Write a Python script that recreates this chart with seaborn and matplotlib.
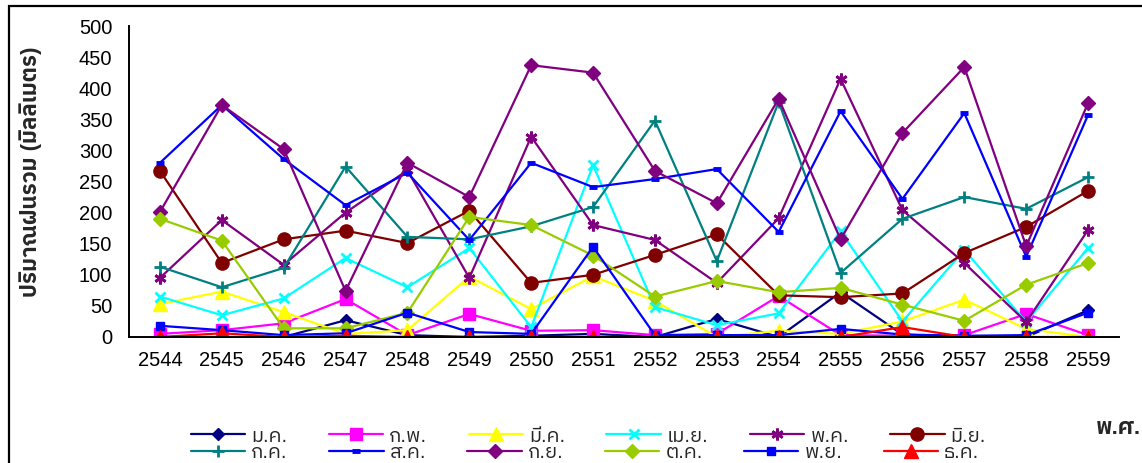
"""ปริมาณฝนรวมรายเดือน พ.ศ. 2544-2559 — เส้นกราฟ 12 เดือน"""
import numpy as np
import matplotlib
matplotlib.use("Agg")
import matplotlib.pyplot as plt
from matplotlib import font_manager as fm
from matplotlib.ft2font import FT2Font
from matplotlib.patches import Rectangle
import seaborn as sns

YEARS = ["2544", "2545", "2546", "2547", "2548", "2549", "2550", "2551",
         "2552", "2553", "2554", "2555", "2556", "2557", "2558", "2559"]
MONTHS = ["ม.ค.", "ก.พ.", "มี.ค.", "เม.ย.", "พ.ค.", "มิ.ย.",
          "ก.ค.", "ส.ค.", "ก.ย.", "ต.ค.", "พ.ย.", "ธ.ค."]

jan = [0, 0, 0, 27, 3, 0, 2, 5, 0, 29, 0, 72, 4, 0, 0, 43]
feb = [5, 11, 22, 61, 3, 37, 10, 11, 3, 5, 66, 3, 2, 3, 37, 3]
mar = [53, 73, 40, 5, 11, 97, 45, 98, 58, 0, 10, 5, 25, 60, 13, 0]
apr = [65, 35, 62, 127, 80, 143, 16, 276, 48, 19, 38, 170, 25, 140, 24, 143]
may = [95, 188, 116, 200, 268, 95, 322, 180, 156, 87, 191, 415, 204, 119, 24, 172]
jun = [267, 119, 157, 171, 151, 203, 87, 100, 132, 165, 67, 64, 70, 135, 177, 235]
jul = [113, 80, 111, 274, 161, 157, 178, 209, 348, 122, 378, 103, 190, 225, 206, 257]
aug = [280, 373, 286, 212, 264, 156, 280, 241, 254, 270, 169, 363, 222, 360, 129, 357]
sep = [201, 373, 302, 74, 280, 225, 437, 425, 267, 215, 383, 157, 328, 434, 146, 376]
oct_ = [190, 155, 14, 14, 39, 193, 180, 131, 65, 90, 72, 79, 52, 26, 84, 119]
nov = [18, 11, 3, 6, 39, 8, 5, 145, 3, 3, 3, 13, 4, 2, 3, 39]
dec = [0, 6, 0, 2, 0, 0, 0, 0, 0, 0, 0, 0, 16, 0, 0, 0]
VALUES = [jan, feb, mar, apr, may, jun, jul, aug, sep, oct_, nov, dec]

# สี/มาร์กเกอร์แบบ Excel: (สี, มาร์กเกอร์, ขนาด, ความหนาขอบ)
STYLE = [("#000080", "D", 6.6, 1), ("#FF00FF", "s", 8, 1), ("#FFFF00", "^", 10, 1),
         ("#00FFFF", "x", 7.5, 2), ("#800080", (6, 2, 0), 8.5, 2), ("#800000", "o", 9.5, 1),
         ("#008080", "+", 8.5, 2), ("#0000FF", "_", 6, 3.5), ("#800080", "D", 7.6, 1),
         ("#99CC00", "D", 7.6, 1), ("#0000FF", "s", 6, 1), ("#FF0000", "^", 10, 1)]


def thai_font():
    prefer = ("Thai", "Tahoma", "Garuda", "Loma", "Sarabun", "Norasi", "Kinnari")
    found = []
    for f in fm.fontManager.ttflist:
        try:
            if 0x0E21 in FT2Font(f.fname).get_charmap():
                found.append(f.name)
        except Exception:
            continue
    for p in prefer:
        for n in found:
            if p in n:
                return n
    return found[0] if found else "DejaVu Sans"


sns.set_style("white")
TH = thai_font()
plt.rcParams["font.family"] = ["Liberation Sans", TH, "DejaVu Sans"]
plt.rcParams["axes.unicode_minus"] = False

W, H = 1142, 463
fig = plt.figure(figsize=(W / 100, H / 100), dpi=100)
ax = fig.add_axes([129 / W, 126 / H, 990 / W, 311 / H])

x = np.arange(len(YEARS))
for name, vals, (c, m, ms, mew) in zip(MONTHS, VALUES, STYLE):
    sns.lineplot(x=x, y=vals, ax=ax, color=c, marker=m, markersize=ms,
                 markeredgecolor=c, markerfacecolor=c, markeredgewidth=mew,
                 lw=1.6, label=name, legend=False)

ax.set_xlim(-0.5, len(YEARS) - 0.5)
ax.set_ylim(0, 500)
ax.set_yticks(np.arange(0, 501, 50))
ax.set_xticks(x)
ax.set_xticklabels(YEARS)
ax.set_xticks(np.arange(-0.5, len(YEARS), 1), minor=True)
ax.tick_params(axis="x", which="major", length=0, pad=10, labelsize=14.5, colors="black")
ax.tick_params(axis="x", which="minor", length=5, width=1.3, direction="out", color="black")
ax.tick_params(axis="y", length=5, width=1.3, direction="out", pad=7, labelsize=14.5, colors="black")
ax.set_xlabel(""); ax.set_ylabel("")
for s in ("top", "right"):
    ax.spines[s].set_visible(False)
for s in ("left", "bottom"):
    ax.spines[s].set_color("black"); ax.spines[s].set_linewidth(1.4)
ax.grid(False)

fig.text(31 / W, 1 - 172 / H, "ปริมาณฝนรวม (มิลลิเมตร)", rotation=90, ha="center",
         va="center", fontsize=16, fontweight="bold")
fig.text(1096 / W, 1 - 428 / H, "พ.ศ.", ha="left", va="center", fontsize=16, fontweight="bold")

# legend สองแถว แถวละ 6 เดือน
lines = ax.get_lines()[:12]
legs = []
for r, yc in enumerate((436, 453)):
    idx = range(6 * r, 6 * r + 6)
    leg = ax.legend([lines[i] for i in idx], [MONTHS[i] for i in idx], ncol=6,
                    loc="center left", bbox_to_anchor=(191 / W, 1 - yc / H),
                    bbox_transform=fig.transFigure, frameon=False, fontsize=14.5,
                    handlelength=2.7, handletextpad=0.3, columnspacing=2.05,
                    borderpad=0, borderaxespad=0)
    legs.append(leg)
ax.add_artist(legs[0])

# กรอบแผนภูมิ (ตัดขอบขวา/ล่าง)
fig.add_artist(Rectangle((9 / W, -0.05), 1.2, 1.05 - 6 / H, transform=fig.transFigure,
                         fill=False, edgecolor="black", lw=1.6))

fig.savefig("out.png", dpi=100)
